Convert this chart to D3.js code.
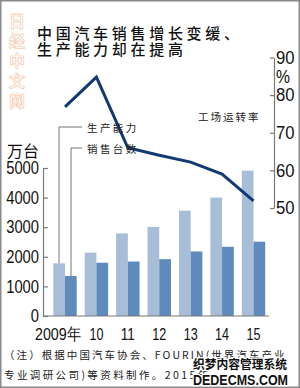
<!DOCTYPE html>
<html><head><meta charset="utf-8">
<script src="https://cdn.jsdelivr.net/npm/d3@7"></script>
<style>
html,body{margin:0;padding:0;background:#fff;}
svg{display:block;}
.cjk{font-family:"Noto Sans CJK SC","Noto Sans",sans-serif;}
.num{font-family:"Liberation Sans",Arial,sans-serif;}
</style>
</head><body>
<script>
const categories = ["2009", "10", "11", "12", "13", "14", "15"];
const capacity = [1780, 2140, 2790, 3010, 3560, 4000, 4910];
const sales = [1350, 1800, 1840, 1920, 2180, 2340, 2510];
const utilization = [76.9, 84.8, 66.0, 64.0, 62.2, 59.0, 51.9];
const leftTicks = [0, 1000, 2000, 3000, 4000, 5000];
const rightTicks = [50, 60, 70, 80, 90];
const xLabels = ["2009年", "10", "11", "12", "13", "14", "15"];

const W = 300, H = 388;
const svg = d3.select("body").append("svg").attr("width", W).attr("height", H);

// frame
svg.append("rect").attr("x", 0.75).attr("y", 0.75).attr("width", W - 1.5).attr("height", H - 1.5)
  .attr("fill", "#fff").attr("stroke", "#8a8a8a").attr("stroke-width", 1.5);

// watermark vertical
const wm = "日经中文网".split("");
svg.append("g").selectAll("text").data(wm).join("text")
  .attr("class", "cjk")
  .attr("x", 17).attr("y", (d, i) => 20 + i * 20)
  .attr("text-anchor", "middle").attr("dominant-baseline", "central")
  .attr("font-size", 16).attr("font-weight", 700)
  .attr("fill", "#fff").attr("stroke", "#f3bfa2").attr("stroke-width", 0.6)
  .text(d => d);

// title
const title = ["中国汽车销售增长变缓、", "生产能力却在提高"];
svg.append("g").selectAll("text").data(title).join("text")
  .attr("class", "cjk")
  .attr("x", 37).attr("y", (d, i) => 32 + i * 16)
  .attr("dominant-baseline", "central")
  .attr("font-size", 15).attr("font-weight", 500)
  .attr("letter-spacing", 3.7).attr("fill", "#111")
  .text(d => d);

// scales
const x = d3.scalePoint().domain(categories).range([65, 253.5]);
const yL = d3.scaleLinear().domain([0, 5000]).range([316, 168]);
const yR = d3.scaleLinear().domain([50, 90]).range([208, 57.5]);
const bw = 11.7;

// bars
svg.append("g").selectAll("rect").data(categories).join("rect")
  .attr("x", d => x(d) - bw).attr("width", bw)
  .attr("y", (d, i) => yL(capacity[i])).attr("height", (d, i) => yL(0) - yL(capacity[i]))
  .attr("fill", "#a8bed8");
svg.append("g").selectAll("rect").data(categories).join("rect")
  .attr("x", d => x(d)).attr("width", bw)
  .attr("y", (d, i) => yL(sales[i])).attr("height", (d, i) => yL(0) - yL(sales[i]))
  .attr("fill", "#5e8abd");

// baseline
svg.append("line").attr("x1", 43).attr("x2", 269).attr("y1", yL(0)).attr("y2", yL(0))
  .attr("stroke", "#7a7a7a").attr("stroke-width", 1.2);

// left axis
const gL = svg.append("g").attr("transform", "translate(43,0)")
  .call(d3.axisLeft(yL).tickValues(leftTicks).tickFormat(d3.format("d")).tickSizeInner(-5).tickSizeOuter(0).tickPadding(4));
gL.select(".domain").attr("stroke", "#7a7a7a").attr("stroke-width", 1.2);
gL.selectAll(".tick line").attr("stroke", "#7a7a7a").attr("stroke-width", 1.2);
gL.selectAll(".tick text").attr("class", "num").attr("font-size", 18).attr("fill", "#111")
  .attr("textLength", d => String(d).length * 8.2).attr("lengthAdjust", "spacingAndGlyphs");

// right axis
const gR = svg.append("g").attr("transform", "translate(274,0)")
  .call(d3.axisRight(yR).tickValues(rightTicks).tickFormat(d3.format("d")).tickSizeInner(-4).tickSizeOuter(0).tickPadding(2));
gR.select(".domain").attr("stroke", "#7a7a7a").attr("stroke-width", 1.2);
gR.selectAll(".tick line").attr("stroke", "#7a7a7a").attr("stroke-width", 1.2);
gR.selectAll(".tick text").attr("class", "num").attr("font-size", 18).attr("fill", "#111")
  .attr("textLength", 18.5).attr("lengthAdjust", "spacingAndGlyphs");
svg.append("text").attr("class", "num").attr("x", 276).attr("y", yR(90) + 19)
  .attr("dominant-baseline", "central").attr("font-size", 18).attr("fill", "#111")
  .attr("textLength", 14).attr("lengthAdjust", "spacingAndGlyphs").text("%");

// line
const line = d3.line().x((d, i) => x(categories[i])).y(d => yR(d));
svg.append("path").datum(utilization).attr("d", line)
  .attr("fill", "none").attr("stroke", "#123a72").attr("stroke-width", 3).attr("stroke-linejoin", "miter");

// x labels
svg.append("g").selectAll("text").data(xLabels).join("text")
  .attr("class", "num")
  .attr("x", (d, i) => i === 0 ? x(categories[i]) - 7 : x(categories[i]))
  .attr("y", 334).attr("text-anchor", "middle").attr("dominant-baseline", "central")
  .attr("font-size", 17).attr("fill", "#111")
  .attr("textLength", (d, i) => i === 0 ? 46 : 14).attr("lengthAdjust", "spacingAndGlyphs")
  .text(d => d);

// unit label
svg.append("text").attr("class", "cjk").attr("x", 7).attr("y", 150)
  .attr("dominant-baseline", "central").attr("font-size", 16).attr("letter-spacing", 0)
  .attr("fill", "#111").text("万台");

// legend labels with leader lines
const legendText = ["生产能力", "销售台数"];
const legendY = [127, 148];
const leaderX = [x(categories[0]) - 6, x(categories[0]) + 6];
const leaderEnd = [yL(capacity[0]), yL(sales[0])];
legendText.forEach((t, i) => {
  svg.append("path")
    .attr("d", `M${leaderX[i]},${leaderEnd[i]}V${legendY[i]}H82`)
    .attr("fill", "none").attr("stroke", "#777").attr("stroke-width", 1);
  svg.append("text").attr("class", "cjk").attr("x", 87).attr("y", legendY[i])
    .attr("dominant-baseline", "central").attr("font-size", 10.5).attr("letter-spacing", 2.4)
    .attr("fill", "#222").text(t);
});
svg.append("text").attr("class", "cjk").attr("x", 198).attr("y", 116)
  .attr("dominant-baseline", "central").attr("font-size", 10.5).attr("letter-spacing", 2)
  .attr("fill", "#222").text("工场运转率");

// footnote
const notes = ["（注）根据中国汽车协会、FOURIN(世界汽车产业", "专业调研公司)等资料制作。2015年"];
const noteLen = [283, 0];
svg.append("g").selectAll("text").data(notes).join("text")
  .attr("class", "cjk").attr("x", 4).attr("y", (d, i) => 354 + i * 20)
  .attr("dominant-baseline", "central").attr("font-size", 10.5).attr("letter-spacing", 2.4)
  .attr("fill", "#222")
  .each(function(d, i){ if (noteLen[i]) d3.select(this).attr("textLength", noteLen[i]).attr("lengthAdjust", "spacing"); })
  .text(d => d);

// site watermark overlay
svg.append("text").attr("class", "cjk").attr("x", 193).attr("y", 363)
  .attr("dominant-baseline", "central").attr("font-size", 12.5).attr("font-weight", 700)
  .attr("fill", "#111").attr("stroke", "#fff").attr("stroke-width", 2.5).attr("paint-order", "stroke")
  .attr("textLength", 94).attr("lengthAdjust", "spacingAndGlyphs").text("织梦内容管理系统");
svg.append("text").attr("class", "num").attr("x", 193).attr("y", 380)
  .attr("dominant-baseline", "central").attr("font-size", 14).attr("font-weight", 700)
  .attr("fill", "#111").attr("stroke", "#fff").attr("stroke-width", 2.5).attr("paint-order", "stroke")
  .attr("textLength", 95).attr("lengthAdjust", "spacingAndGlyphs").text("DEDECMS.COM");
</script>
</body></html>
